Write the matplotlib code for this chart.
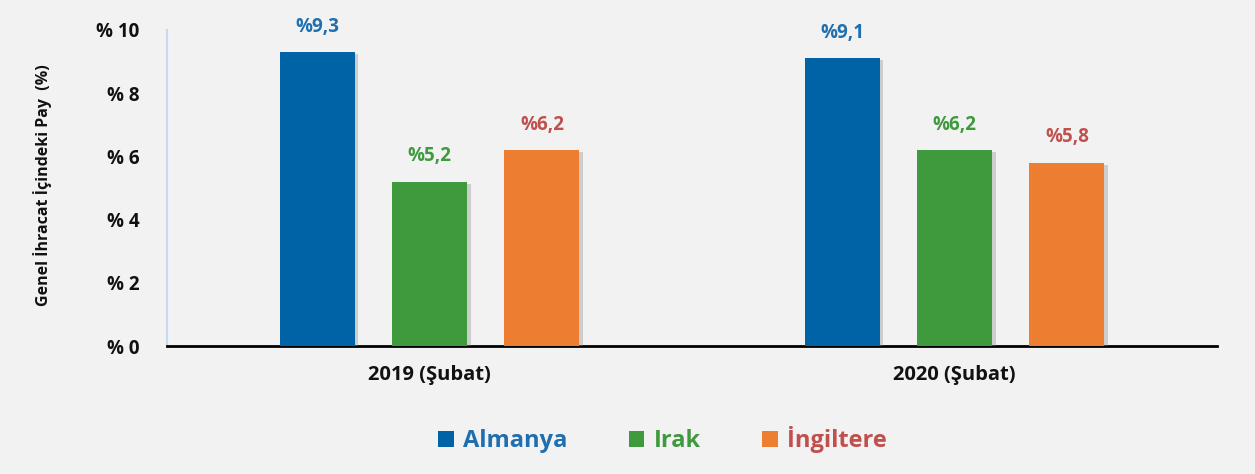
import matplotlib.pyplot as plt
import matplotlib.patheffects as pe
from matplotlib.patches import Patch

plt.rcParams['font.family'] = ['Open Sans', 'DejaVu Sans']

categories = ["2019 (Şubat)", "2020 (Şubat)"]
countries = ["Almanya", "Irak", "İngiltere"]
values = {
    "Almanya": [9.3, 9.1],
    "Irak": [5.2, 6.2],
    "İngiltere": [6.2, 5.8],
}
value_labels = {
    "Almanya": ["%9,3", "%9,1"],
    "Irak": ["%5,2", "%6,2"],
    "İngiltere": ["%6,2", "%5,8"],
}
y_ticks = [0, 2, 4, 6, 8, 10]
y_tick_labels = ["% 0", "% 2", "% 4", "% 6", "% 8", "% 10"]

bar_colors = {"Almanya": "#0063A6", "Irak": "#3F9A3D", "İngiltere": "#ED7D31"}
text_colors = {"Almanya": "#1F6FB0", "Irak": "#3F9A3D", "İngiltere": "#C0504D"}

fig = plt.figure(figsize=(12.55, 4.74), dpi=100, facecolor="#F2F2F2")
ax = fig.add_axes([0.1331, 0.270, 0.8367, 0.667])
ax.set_facecolor("#F2F2F2")

width = 0.143
offsets = [-0.214, 0, 0.214]
shadow = [pe.SimplePatchShadow(offset=(2.5, -1.5), shadow_rgbFace="#8a8a8a", alpha=0.35), pe.Normal()]

for off, c in zip(offsets, countries):
    xs = [i + off for i in range(len(categories))]
    bars = ax.bar(xs, values[c], width=width, color=bar_colors[c], zorder=3)
    for b, lab in zip(bars, value_labels[c]):
        b.set_path_effects(shadow)
        ax.annotate(lab, (b.get_x() + b.get_width() / 2, b.get_height()),
                    xytext=(0, 11), textcoords="offset points",
                    ha="center", va="bottom", fontsize=13.5, fontweight="bold",
                    color=text_colors[c])

ax.set_xlim(-0.5, 1.5)
ax.set_ylim(0, 10)
ax.set_xticks(range(len(categories)))
ax.set_xticklabels(categories, fontsize=14.5, fontweight="bold", color="#111111")
ax.set_yticks(y_ticks)
ax.set_yticklabels(y_tick_labels, fontsize=13.5, fontweight="bold", color="#111111")
ax.tick_params(axis="both", length=0)
ax.tick_params(axis="x", pad=14)
ax.tick_params(axis="y", pad=20)

ax.spines["top"].set_visible(False)
ax.spines["right"].set_visible(False)
ax.spines["left"].set_color("#C5D9F1")
ax.spines["left"].set_linewidth(1.5)
ax.spines["bottom"].set_color("#000000")
ax.spines["bottom"].set_linewidth(2)

fig.text(0.034, 0.61, "Genel İhracat İçindeki Pay  (%)", rotation=90,
         ha="center", va="center", fontsize=11.5, fontweight="bold", color="#111111")

handles = [Patch(facecolor=bar_colors[c]) for c in countries]
leg = fig.legend(handles, countries, ncol=3, loc="center", bbox_to_anchor=(0.528, 0.072),
                 frameon=False, prop={"size": 17, "weight": "bold"},
                 labelcolor=[text_colors[c] for c in countries],
                 handlelength=0.65, handleheight=0.65, handletextpad=0.4, columnspacing=2.6)

fig.savefig("out.png", dpi=100, facecolor=fig.get_facecolor())
